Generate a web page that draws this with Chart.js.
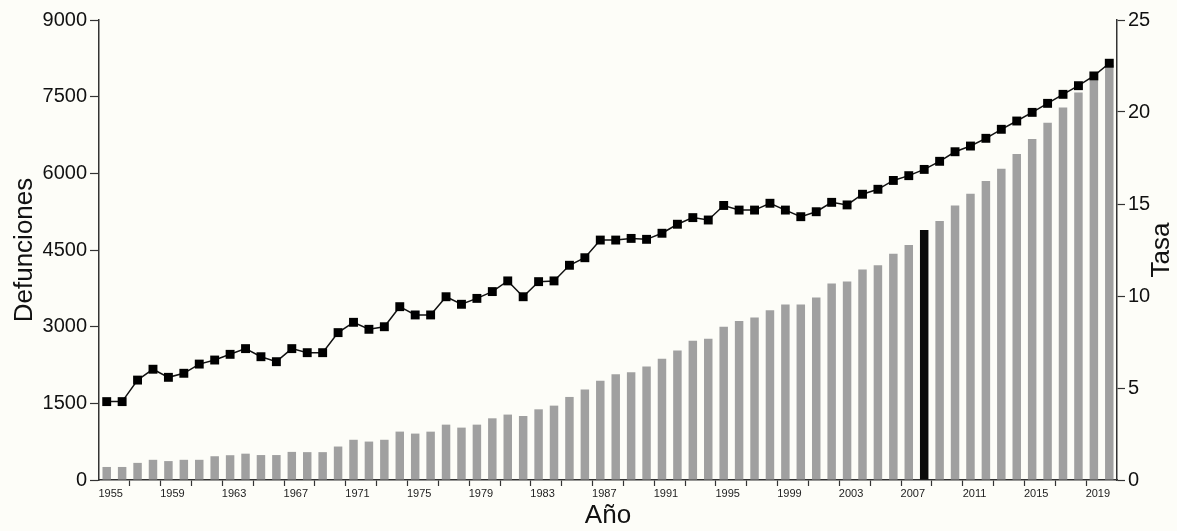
<!DOCTYPE html>
<html>
<head>
<meta charset="utf-8">
<script src="https://cdn.jsdelivr.net/npm/chart.js@4/dist/chart.umd.min.js"></script>
<style>
  html, body { margin: 0; padding: 0; background: #fdfdf8; }
</style>
</head>
<body>
<canvas id="chart" width="1177" height="531"></canvas>
<script>
// Data
const years = [
  1955, 1956, 1957, 1958, 1959, 1960, 1961, 1962, 1963, 1964, 1965,
  1966, 1967, 1968, 1969, 1970, 1971, 1972, 1973, 1974, 1975, 1976,
  1977, 1978, 1979, 1980, 1981, 1982, 1983, 1984, 1985, 1986, 1987,
  1988, 1989, 1990, 1991, 1992, 1993, 1994, 1995, 1996, 1997, 1998,
  1999, 2000, 2001, 2002, 2003, 2004, 2005, 2006, 2007, 2008, 2009,
  2010, 2011, 2012, 2013, 2014, 2015, 2016, 2017, 2018, 2019, 2020
];
const defunciones = [
  255, 255, 335, 395, 370, 395, 395, 465, 485, 515, 488,
  488, 550, 545, 545, 655, 787, 752, 787, 947, 908, 946,
  1083, 1025, 1083, 1207, 1280, 1252, 1383, 1455, 1625, 1770, 1940,
  2068, 2110, 2220, 2370, 2533, 2725, 2765, 3000, 3110, 3180, 3320,
  3435, 3435, 3570, 3845, 3885, 4120, 4200, 4425, 4600, 4890, 5068,
  5370, 5600, 5850, 6090, 6376, 6670, 6990, 7290, 7580, 7820, 8120
];
const tasa = [
  4.26, 4.26, 5.43, 6.02, 5.58, 5.80, 6.30, 6.52, 6.83, 7.14, 6.70,
  6.43, 7.14, 6.92, 6.92, 8.01, 8.57, 8.19, 8.33, 9.42, 8.97, 8.97,
  9.96, 9.55, 9.87, 10.24, 10.82, 9.96, 10.78, 10.82, 11.67, 12.08, 13.04,
  13.04, 13.13, 13.08, 13.41, 13.90, 14.26, 14.13, 14.92, 14.67, 14.67, 15.04,
  14.67, 14.31, 14.58, 15.09, 14.95, 15.53, 15.80, 16.28, 16.54, 16.88, 17.32,
  17.84, 18.15, 18.57, 19.06, 19.51, 19.98, 20.47, 20.96, 21.43, 21.96, 22.65
];
const labeledYears = [1955, 1959, 1963, 1967, 1971, 1975, 1979, 1983, 1987, 1991, 1995, 1999, 2003, 2007, 2011, 2015, 2019];
const highlightYear = 2008;

Chart.defaults.font.family = '"Liberation Sans", Arial, Helvetica, sans-serif';

const barColors = years.map(y => y === highlightYear ? "#0b0b0b" : "#a0a0a0");

// "Tasa" reads bottom-to-top on the right, so draw it by hand
const rightTitle = {
  id: "rightTitle",
  afterDraw(chart) {
    const { ctx, chartArea } = chart;
    ctx.save();
    ctx.translate(1162, (chartArea.top + chartArea.bottom) / 2);
    ctx.rotate(-Math.PI / 2);
    ctx.font = '26px "Liberation Sans", Arial, sans-serif';
    ctx.fillStyle = "#111";
    ctx.textAlign = "center";
    ctx.textBaseline = "middle";
    ctx.fillText("Tasa", 0, 0);
    ctx.restore();
  }
};

new Chart(document.getElementById("chart"), {
  type: "bar",
  data: {
    labels: years,
    datasets: [
      {
        type: "line",
        label: "Tasa",
        data: tasa,
        yAxisID: "y1",
        order: 0,
        borderColor: "#111",
        borderWidth: 1.5,
        pointStyle: "rect",
        pointRadius: 6.3,
        pointBackgroundColor: "#000",
        pointBorderColor: "#000",
        pointBorderWidth: 0,
        tension: 0,
        clip: false
      },
      {
        label: "Defunciones",
        data: defunciones,
        yAxisID: "y",
        order: 1,
        backgroundColor: barColors,
        barPercentage: 0.55,
        categoryPercentage: 1
      }
    ]
  },
  options: {
    responsive: false,
    animation: false,
    layout: { padding: { top: 20, left: 0, right: 0, bottom: 0 } },
    plugins: { legend: { display: false }, tooltip: { enabled: false } },
    scales: {
      x: {
        offset: true,
        grid: {
          offset: true,
          drawOnChartArea: false,
          tickLength: 6,
          tickWidth: 1.2,
          tickColor: c => (c.index >= 2 && c.index % 2 === 0 && c.index < years.length) ? "#333" : "rgba(0,0,0,0)"
        },
        border: { color: "#333", width: 1.5 },
        ticks: {
          autoSkip: false,
          maxRotation: 0,
          minRotation: 0,
          padding: 1,
          labelOffset: 4,
          color: "#222",
          font: { size: 11 },
          callback: (v, i) => labeledYears.includes(years[i]) ? String(years[i]) : ""
        },
        title: { display: true, text: "Año", color: "#111", font: { size: 26 }, padding: { top: 0, bottom: 0 } },
        afterFit: s => { s.height = 51; }
      },
      y: {
        position: "left",
        min: 0,
        max: 9000,
        ticks: { stepSize: 1500, color: "#111", font: { size: 20 }, padding: 3, callback: v => String(v) },
        grid: { drawOnChartArea: false, tickLength: 9, tickWidth: 1.2, tickColor: "#333" },
        border: { color: "#333", width: 1.5 },
        title: { display: true, text: "Defunciones", color: "#111", font: { size: 26 }, padding: { top: 9 } },
        afterFit: s => { s.width = 99; }
      },
      y1: {
        position: "right",
        min: 0,
        max: 25,
        ticks: { stepSize: 5, color: "#111", font: { size: 20 }, padding: 3, callback: v => String(v) },
        grid: { drawOnChartArea: false, tickLength: 8, tickWidth: 1.2, tickColor: "#333" },
        border: { color: "#333", width: 1.5 },
        afterFit: s => { s.width = 60; }
      }
    }
  },
  plugins: [rightTitle]
});
</script>
</body>
</html>
